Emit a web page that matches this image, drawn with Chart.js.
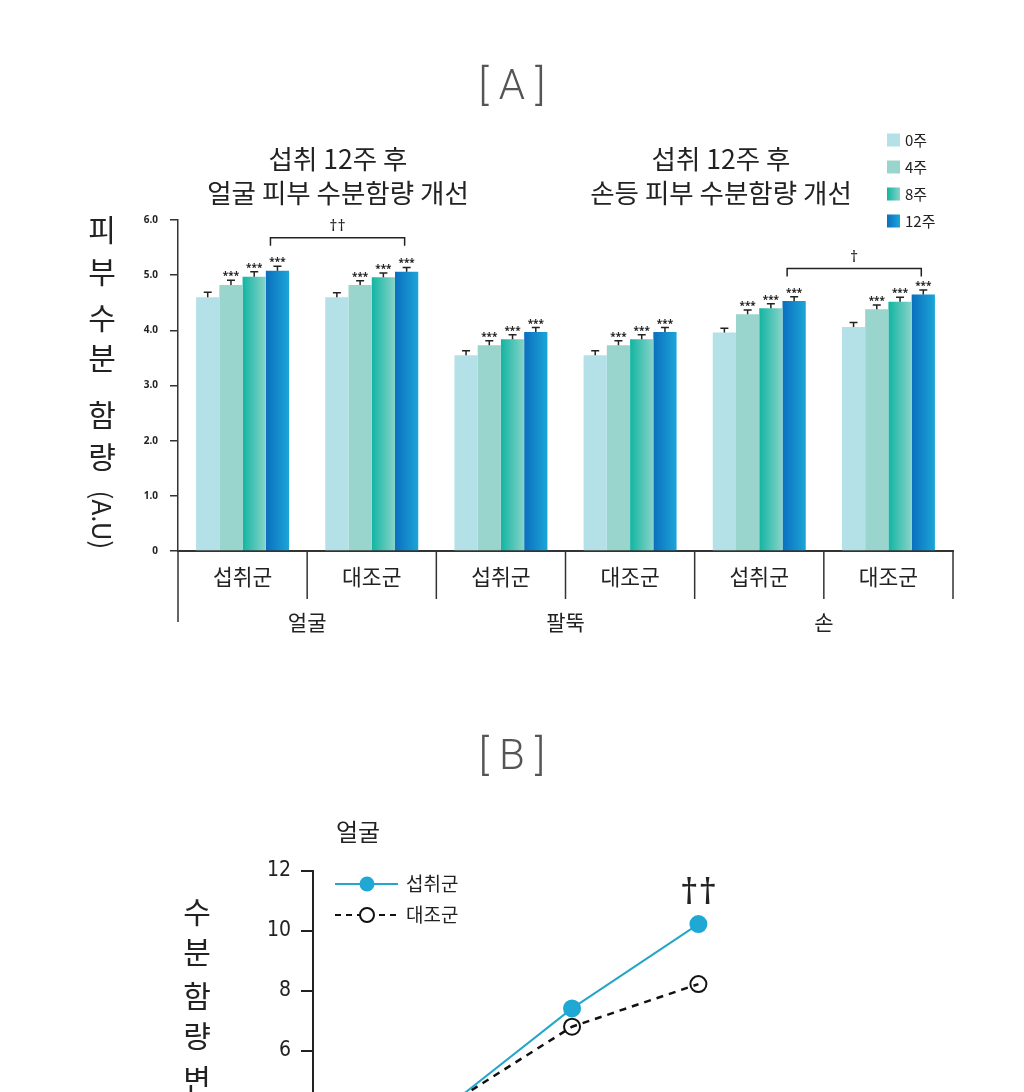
<!DOCTYPE html>
<html>
<head>
<meta charset="utf-8">
<script src="https://cdn.jsdelivr.net/npm/chart.js@4.4.0/dist/chart.umd.min.js"></script>
<style>
  html, body { margin: 0; padding: 0; background: #fff; overflow: hidden; }
  body { width: 1024px; height: 1092px; position: relative; }
  canvas { position: absolute; left: 0; }
  #chartA { top: 0; }
  #chartB { top: 700px; }
  .panelTitle { position: absolute; left: 0; width: 1024px; text-align: center;
    font-family: Roboto, "Noto Sans", sans-serif; font-weight: 300; font-size: 42px;
    color: #555; line-height: 50px; white-space: pre; }
  #titleA { top: 60px; }
  #titleB { top: 730px; }
</style>
</head>
<body>
<canvas id="chartA" width="1024" height="650"></canvas>
<canvas id="chartB" width="1024" height="650"></canvas>
<div class="panelTitle" id="titleA">[ A ]</div>
<div class="panelTitle" id="titleB">[ B ]</div>

<script>
// ---- panel A data ----
const categoriesA = ['섭취군', '대조군', '섭취군', '대조군', '섭취군', '대조군'];
const regionsA = ['얼굴', '팔뚝', '손'];
const weeksA = ['0주', '4주', '8주', '12주'];

const week0 = [4.60, 4.60, 3.55, 3.55, 3.96, 4.06];
const week4 = [4.82, 4.82, 3.73, 3.73, 4.29, 4.38];
const week8 = [4.97, 4.96, 3.84, 3.84, 4.40, 4.52];
const week12 = [5.08, 5.06, 3.97, 3.97, 4.53, 4.65];

const err0 = [0.09, 0.08, 0.08, 0.08, 0.08, 0.08];
const err4 = [0.09, 0.08, 0.08, 0.08, 0.08, 0.08];
const err8 = [0.09, 0.08, 0.08, 0.08, 0.08, 0.08];
const err12 = [0.08, 0.08, 0.08, 0.08, 0.08, 0.08];

const sigA = ['', '***', '***', '***'];
const bracketsA = [
    { from: 0, to: 1, level: 5.68, label: '††' },
    { from: 4, to: 5, level: 5.12, label: '†' }
];

// ---- panel B data ----
const weeksB = [0, 4, 8, 12];
const intakeB = [0, 4.1, 7.42, 10.23];
const controlB = [0, 4.15, 6.81, 8.23];
const groupsB = ['섭취군', '대조군'];

const valuesA = [week0, week4, week8, week12];
const errorsA = [err0, err4, err8, err12];

const KR = '"Noto Sans CJK KR", "Noto Sans", sans-serif';
const DAGGER = '"Noto Sans", "DejaVu Sans", sans-serif';
Chart.defaults.font.family = KR;
Chart.defaults.color = '#222';

const CAT_PCT = 0.72;
const barColors = ['#b4e1e7', '#99d5cd', ['#12b5a2', '#88d3c9'], ['#0a6fbf', '#1ca5d7']];

function fillFor(ctx, color, left, width) {
    if (!Array.isArray(color)) return color;
    const g = ctx.createLinearGradient(left, 0, left + width, 0);
    g.addColorStop(0, color[0]);
    g.addColorStop(1, color[1]);
    return g;
}

// gradient per bar, computed from the x scale
function barFill(context) {
    const c = barColors[context.datasetIndex];
    if (!Array.isArray(c)) return c;
    const chart = context.chart;
    const xs = chart.scales.x;
    if (!chart.chartArea || !xs || context.dataIndex === undefined) return c[0];
    const catW = (xs.right - xs.left) / categoriesA.length;
    const groupW = catW * CAT_PCT;
    const barW = groupW / weeksA.length;
    const left = xs.getPixelForValue(context.dataIndex) - groupW / 2 + context.datasetIndex * barW;
    return fillFor(chart.ctx, c, left, barW);
}

const panelA = {
    id: 'panelA',
    afterDraw(chart) {
        const ctx = chart.ctx;
        const xs = chart.scales.x, ys = chart.scales.y;
        const area = chart.chartArea;
        ctx.save();

        // error bars + significance stars
        ctx.strokeStyle = '#222';
        ctx.fillStyle = '#222';
        ctx.lineWidth = 1.5;
        valuesA.forEach((vals, d) => {
            const meta = chart.getDatasetMeta(d);
            meta.data.forEach((bar, i) => {
                const yTop = ys.getPixelForValue(vals[i] + errorsA[d][i]);
                const yVal = ys.getPixelForValue(vals[i]);
                ctx.beginPath();
                ctx.moveTo(bar.x, yVal);
                ctx.lineTo(bar.x, yTop);
                ctx.moveTo(bar.x - 4, yTop);
                ctx.lineTo(bar.x + 4, yTop);
                ctx.stroke();
                if (sigA[d]) {
                    ctx.font = 'bold 10px "Noto Sans", sans-serif';
                    ctx.textAlign = 'center';
                    ctx.textBaseline = 'alphabetic';
                    ctx.fillText(sigA[d], bar.x, yTop - 1);
                }
            });
        });

        // brackets between 12주 bars
        const last = chart.getDatasetMeta(weeksA.length - 1);
        bracketsA.forEach(b => {
            const x1 = last.data[b.from].x - 7;
            const x2 = last.data[b.to].x - 2;
            const y = ys.getPixelForValue(b.level);
            ctx.lineWidth = 1.5;
            ctx.beginPath();
            ctx.moveTo(x1, y + 8);
            ctx.lineTo(x1, y);
            ctx.lineTo(x2, y);
            ctx.lineTo(x2, y + 8);
            ctx.stroke();
            ctx.font = '16px ' + DAGGER;
            ctx.textAlign = 'center';
            ctx.textBaseline = 'middle';
            ctx.fillText(b.label, (x1 + x2) / 2, y - 11);
        });

        // category separators and region labels
        const catW = (xs.right - xs.left) / categoriesA.length;
        ctx.strokeStyle = '#333';
        ctx.lineWidth = 1.5;
        for (let k = 0; k <= categoriesA.length; k++) {
            const x = xs.left + k * catW;
            ctx.beginPath();
            ctx.moveTo(x, area.bottom);
            ctx.lineTo(x, area.bottom + (k === 0 ? 71 : 48));
            ctx.stroke();
        }
        ctx.font = '21px ' + KR;
        ctx.textAlign = 'center';
        ctx.textBaseline = 'middle';
        regionsA.forEach((r, k) => {
            ctx.fillText(r, xs.left + (2 * k + 1) * catW, area.bottom + 71);
        });

        // headers
        ctx.font = '26.5px ' + KR;
        ctx.fillText('섭취 12주 후', 338, 159);
        ctx.fillText('얼굴 피부 수분함량 개선', 338, 193);
        ctx.fillText('섭취 12주 후', 721, 159);
        ctx.fillText('손등 피부 수분함량 개선', 721, 193);

        // vertical y title
        ctx.font = '30px ' + KR;
        const chars = [['피', 230], ['부', 272], ['수', 318], ['분', 358], ['함', 415], ['량', 457]];
        chars.forEach(([c, y]) => ctx.fillText(c, 102, y));
        ctx.save();
        ctx.translate(102, 520);
        ctx.rotate(Math.PI / 2);
        ctx.font = '26px ' + KR;
        ctx.fillText('(A.U)', 0, 0);
        ctx.restore();

        // legend
        ctx.font = '15px ' + KR;
        ctx.textAlign = 'left';
        weeksA.forEach((w, d) => {
            const y = 140 + d * 27;
            ctx.fillStyle = fillFor(ctx, barColors[d], 887, 13);
            ctx.fillRect(887, y - 6.5, 13, 13);
            ctx.fillStyle = '#222';
            ctx.fillText(w, 905, y);
        });

        ctx.restore();
    }
};

new Chart(document.getElementById('chartA'), {
    type: 'bar',
    data: {
        labels: categoriesA,
        datasets: weeksA.map((w, i) => ({
            label: w,
            data: valuesA[i],
            backgroundColor: barFill,
            borderWidth: 0,
            categoryPercentage: CAT_PCT,
            barPercentage: 1.0
        }))
    },
    options: {
        responsive: false,
        animation: false,
        layout: { padding: { left: 138, right: 71, top: 220, bottom: 19 } },
        plugins: { legend: { display: false }, tooltip: { enabled: false } },
        scales: {
            x: {
                grid: { display: false },
                border: { display: true, color: '#333', width: 2 },
                ticks: { font: { size: 21.5 }, color: '#222', padding: 5, autoSkip: false, maxRotation: 0 },
                afterFit: s => { s.height = 80; }
            },
            y: {
                min: 0,
                max: 6,
                ticks: {
                    stepSize: 1,
                    font: { size: 10, weight: 'bold', family: '"Noto Sans", sans-serif' },
                    color: '#222',
                    padding: 12,
                    callback: v => v === 0 ? '0' : v.toFixed(1)
                },
                grid: { display: true, drawOnChartArea: false, drawTicks: true, tickLength: 8, color: '#333', lineWidth: 1.5 },
                border: { display: true, color: '#333', width: 1.5 },
                afterFit: s => { s.width = 40; }
            }
        }
    },
    plugins: [panelA]
});

// ---- panel B ----
const OFF_B = 700;
const TEAL = '#25a5c9';
const DOT = '#1ea8d3';

const panelB = {
    id: 'panelB',
    afterDraw(chart) {
        const ctx = chart.ctx;
        ctx.save();
        ctx.fillStyle = '#222';
        ctx.textBaseline = 'middle';
        ctx.textAlign = 'center';

        ctx.font = '24px ' + KR;
        ctx.fillText('얼굴', 358, 832 - OFF_B);

        // vertical y title
        ctx.font = '30px ' + KR;
        const chars = [['수', 912], ['분', 952], ['함', 996], ['량', 1036], ['변', 1080], ['화', 1120]];
        chars.forEach(([c, y]) => ctx.fillText(c, 197, y - OFF_B));

        // legend
        const ly1 = 884 - OFF_B, ly2 = 915 - OFF_B;
        ctx.strokeStyle = TEAL;
        ctx.lineWidth = 2;
        ctx.beginPath();
        ctx.moveTo(335, ly1);
        ctx.lineTo(398, ly1);
        ctx.stroke();
        ctx.fillStyle = DOT;
        ctx.beginPath();
        ctx.arc(367, ly1, 7.5, 0, Math.PI * 2);
        ctx.fill();

        ctx.strokeStyle = '#111';
        ctx.setLineDash([6, 5]);
        ctx.beginPath();
        ctx.moveTo(335, ly2);
        ctx.lineTo(398, ly2);
        ctx.stroke();
        ctx.setLineDash([]);
        ctx.fillStyle = '#fff';
        ctx.beginPath();
        ctx.arc(367, ly2, 7, 0, Math.PI * 2);
        ctx.fill();
        ctx.stroke();

        ctx.fillStyle = '#222';
        ctx.font = '19px ' + KR;
        ctx.textAlign = 'left';
        ctx.fillText(groupsB[0], 406, ly1);
        ctx.fillText(groupsB[1], 406, ly2);

        // significance over the last intake point
        const pt = chart.getDatasetMeta(0).data[weeksB.length - 1];
        ctx.textAlign = 'center';
        ctx.font = '36px ' + DAGGER;
        ctx.fillText('††', pt.x, pt.y - 30);

        ctx.restore();
    }
};

new Chart(document.getElementById('chartB'), {
    type: 'line',
    data: {
        datasets: [
            {
                label: groupsB[0],
                data: weeksB.map((w, i) => ({ x: w, y: intakeB[i] })),
                borderColor: TEAL,
                borderWidth: 2,
                pointRadius: 8,
                pointBackgroundColor: DOT,
                pointBorderColor: DOT,
                tension: 0
            },
            {
                label: groupsB[1],
                data: weeksB.map((w, i) => ({ x: w, y: controlB[i] })),
                borderColor: '#111',
                borderWidth: 2.5,
                borderDash: [7, 6],
                pointRadius: 8,
                pointBorderWidth: 2,
                pointBackgroundColor: 'rgba(0,0,0,0)',
                pointBorderColor: '#111',
                tension: 0
            }
        ]
    },
    options: {
        responsive: false,
        animation: false,
        layout: { padding: { left: 253, right: 294, top: 171, bottom: 79 } },
        plugins: { legend: { display: false }, tooltip: { enabled: false } },
        scales: {
            x: {
                type: 'linear',
                min: -0.2,
                max: 13,
                grid: { display: false },
                border: { display: true, color: '#222', width: 2 },
                ticks: { stepSize: 4, callback: v => v + '주', font: { size: 18 } },
                afterFit: s => { s.height = 40; }
            },
            y: {
                min: 0,
                max: 12,
                ticks: {
                    stepSize: 2,
                    font: { size: 21, family: '"Liberation Sans Narrow", "DejaVu Sans Condensed", "Liberation Sans", sans-serif' },
                    color: '#222',
                    padding: 10
                },
                grid: { display: true, drawOnChartArea: false, drawTicks: true, tickLength: 12, color: '#222', lineWidth: 2 },
                border: { display: true, color: '#222', width: 2 },
                afterFit: s => { s.width = 60; }
            }
        }
    },
    plugins: [panelB]
});
</script>
</body>
</html>
